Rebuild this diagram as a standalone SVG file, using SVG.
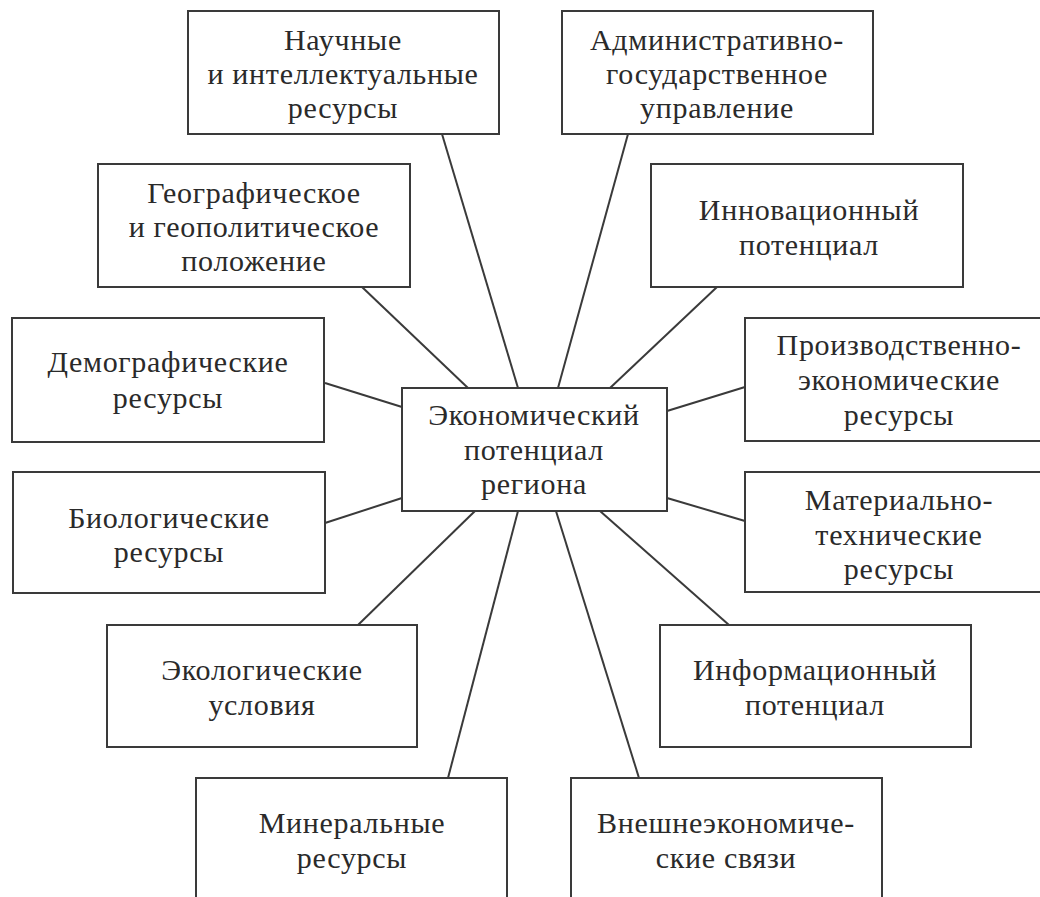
<svg xmlns="http://www.w3.org/2000/svg" width="1040" height="897" viewBox="0 0 1040 897">
<rect width="1040" height="897" fill="#fff"/>
<g id="connectors" stroke="#3a3a3a" stroke-width="2" fill="none">
<line x1="442" y1="134" x2="518" y2="388"/>
<line x1="628" y1="134" x2="558" y2="388"/>
<line x1="362" y1="287" x2="468" y2="388"/>
<line x1="717" y1="287" x2="610" y2="388"/>
<line x1="325" y1="383" x2="402" y2="407"/>
<line x1="667" y1="411" x2="745" y2="387"/>
<line x1="325" y1="523" x2="402" y2="498"/>
<line x1="667" y1="498" x2="745" y2="521"/>
<line x1="475" y1="511" x2="358" y2="625"/>
<line x1="518" y1="511" x2="448" y2="778"/>
<line x1="556" y1="511" x2="639" y2="778"/>
<line x1="600" y1="511" x2="729" y2="625"/>
</g>
<g id="nodes" font-family="Liberation Serif, Times New Roman, serif" font-size="30" letter-spacing="0.7" text-anchor="middle">
<g id="boxes" fill="#fff" stroke="#3a3a3a" stroke-width="2">
<rect x="402" y="388" width="265" height="123"/>
<rect x="188" y="11" width="311" height="123"/>
<rect x="562" y="11" width="311" height="123"/>
<rect x="98" y="164" width="312" height="123"/>
<rect x="651" y="164" width="312" height="123"/>
<rect x="12" y="318" width="312" height="124"/>
<rect x="745" y="318" width="312" height="123"/>
<rect x="13" y="472" width="312" height="121"/>
<rect x="745" y="472" width="312" height="120"/>
<rect x="107" y="625" width="310" height="122"/>
<rect x="660" y="625" width="311" height="122"/>
<rect x="196" y="778" width="311" height="130"/>
<rect x="571" y="778" width="311" height="130"/>
</g>
<g id="labels" fill="#2a2a2a">
<g id="center">
<text x="534" y="425">Экономический</text>
<text x="534" y="460">потенциал</text>
<text x="534" y="494">региона</text>
</g>
<g id="nauchnye">
<text x="343" y="50">Научные</text>
<text x="343" y="84">и интеллектуальные</text>
<text x="343" y="118">ресурсы</text>
</g>
<g id="admin">
<text x="717" y="50">Административно-</text>
<text x="717" y="84">государственное</text>
<text x="717" y="118">управление</text>
</g>
<g id="geo">
<text x="254" y="203">Географическое</text>
<text x="254" y="237">и геополитическое</text>
<text x="254" y="271">положение</text>
</g>
<g id="innov">
<text x="809" y="220">Инновационный</text>
<text x="809" y="255">потенциал</text>
</g>
<g id="demo">
<text x="168" y="372">Демографические</text>
<text x="168" y="408">ресурсы</text>
</g>
<g id="proizv">
<text x="899" y="355">Производственно-</text>
<text x="899" y="390">экономические</text>
<text x="899" y="425">ресурсы</text>
</g>
<g id="bio">
<text x="169" y="528">Биологические</text>
<text x="169" y="562">ресурсы</text>
</g>
<g id="mater">
<text x="899" y="510">Материально-</text>
<text x="899" y="545">технические</text>
<text x="899" y="579">ресурсы</text>
</g>
<g id="eco">
<text x="262" y="680">Экологические</text>
<text x="262" y="715">условия</text>
</g>
<g id="inform">
<text x="815" y="680">Информационный</text>
<text x="815" y="715">потенциал</text>
</g>
<g id="mineral">
<text x="352" y="833">Минеральные</text>
<text x="352" y="868">ресурсы</text>
</g>
<g id="vneshn">
<text x="726" y="833">Внешнеэкономиче-</text>
<text x="726" y="868">ские связи</text>
</g>
</g>
</g>
</svg>
